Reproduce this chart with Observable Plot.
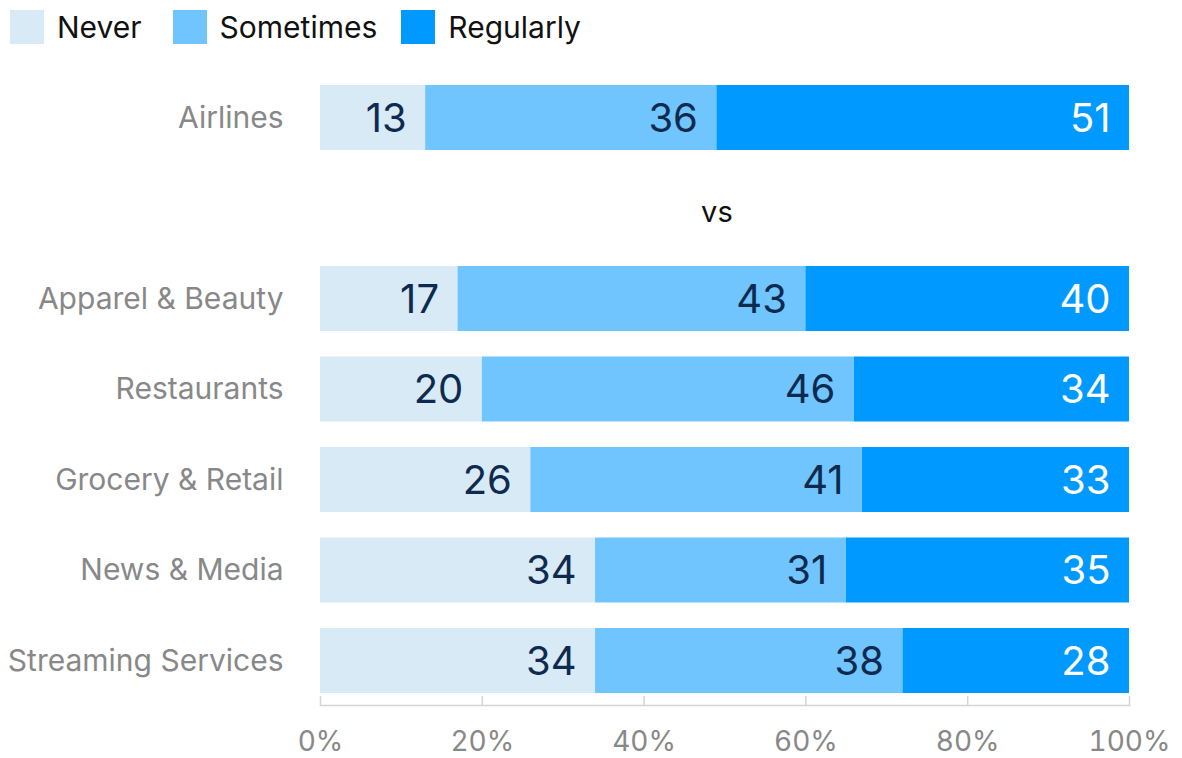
<!DOCTYPE html>
<html>
<head>
<meta charset="utf-8">
<script src="https://cdn.jsdelivr.net/npm/d3@7"></script>
<script src="https://cdn.jsdelivr.net/npm/@observablehq/plot@0.6"></script>
<style>
  html, body { margin: 0; padding: 0; background: #fff; }
  body { font-family: Inter, "Noto Sans", sans-serif; width: 1182px; height: 758px; overflow: hidden; }
  #legend { display: flex; align-items: center; height: 60px; padding-left: 10px; box-sizing: border-box; padding-bottom: 6px; }
  .item { display: flex; align-items: center; margin-right: 24px; }
  .item:first-child { margin-right: 31px; }
  .sw { width: 34px; height: 34px; margin-right: 13px; }
  .lab { font-size: 30px; color: #111; }
  #chart svg { display: block; overflow: visible; }
</style>
</head>
<body>
<div id="legend"></div>
<div id="chart"></div>
<script>
const categories = ["Airlines", "Apparel & Beauty", "Restaurants", "Grocery & Retail", "News & Media", "Streaming Services"];
const never = [13, 17, 20, 26, 34, 34];
const sometimes = [36, 43, 46, 41, 31, 38];
const regularly = [51, 40, 34, 33, 35, 28];
const levels = ["Never", "Sometimes", "Regularly"];
const colors = ["#d9eaf7", "#70c5ff", "#0099ff"];
const tickValues = [0, 20, 40, 60, 80, 100];
const separator = "vs";

const series = [never, sometimes, regularly];
const data = [];
categories.forEach((c, i) => {
  levels.forEach((l, j) => data.push({category: c, level: l, value: series[j][i]}));
});
const yDomain = [categories[0], separator, ...categories.slice(1)];

// legend
const legend = document.getElementById("legend");
levels.forEach((l, j) => {
  const it = document.createElement("div");
  it.className = "item";
  it.innerHTML = `<div class="sw" style="background:${colors[j]}"></div><div class="lab">${l}</div>`;
  legend.appendChild(it);
});

const chart = Plot.plot({
  width: 1182,
  height: 698,
  marginLeft: 320,
  marginRight: 53,
  marginTop: 13,
  marginBottom: 53,
  style: {fontFamily: "Inter, 'Noto Sans', sans-serif", background: "#fff"},
  x: {domain: [0, 100], label: null},
  y: {domain: yDomain, paddingInner: 0.2818, paddingOuter: 0.1326, round: false, label: null},
  color: {domain: levels, range: colors},
  marks: [
    Plot.barX(data, Plot.stackX({x: "value", y: "category", fill: "level", z: "level"})),
    Plot.textX(data, Plot.stackX2({
      x: "value", y: "category", z: "level",
      text: d => String(d.value),
      textAnchor: "end", dx: -19, dy: 1,
      fontSize: 40,
      fill: d => d.level === "Regularly" ? "#ffffff" : "#0e2a4f"
    })),
    Plot.text([separator], {x: () => 49, y: d => d, text: d => d, fontSize: 29, dy: 4, fill: "#111"}),
    Plot.frame({anchor: "bottom", stroke: "#d4d4d4", strokeWidth: 1.5}),
    Plot.ruleX(tickValues, {x: d => d, stroke: "#d4d4d4", strokeWidth: 1.5, insetTop: 623}),
    Plot.axisX({ticks: tickValues, tickSize: 0, tickPadding: 26, fontSize: 28, color: "#888", label: null, tickFormat: d => d + "%"}),
    Plot.axisY({tickSize: 0, tickPadding: 37, fontSize: 30, color: "#888", label: null, tickFormat: d => d === separator ? "" : d})
  ]
});
chart.querySelectorAll("[aria-label='x-axis tick label'] text, [aria-label='y-axis tick label'] text").forEach(t => t.setAttribute("fill", "#888"));
document.getElementById("chart").appendChild(chart);
</script>
</body>
</html>
